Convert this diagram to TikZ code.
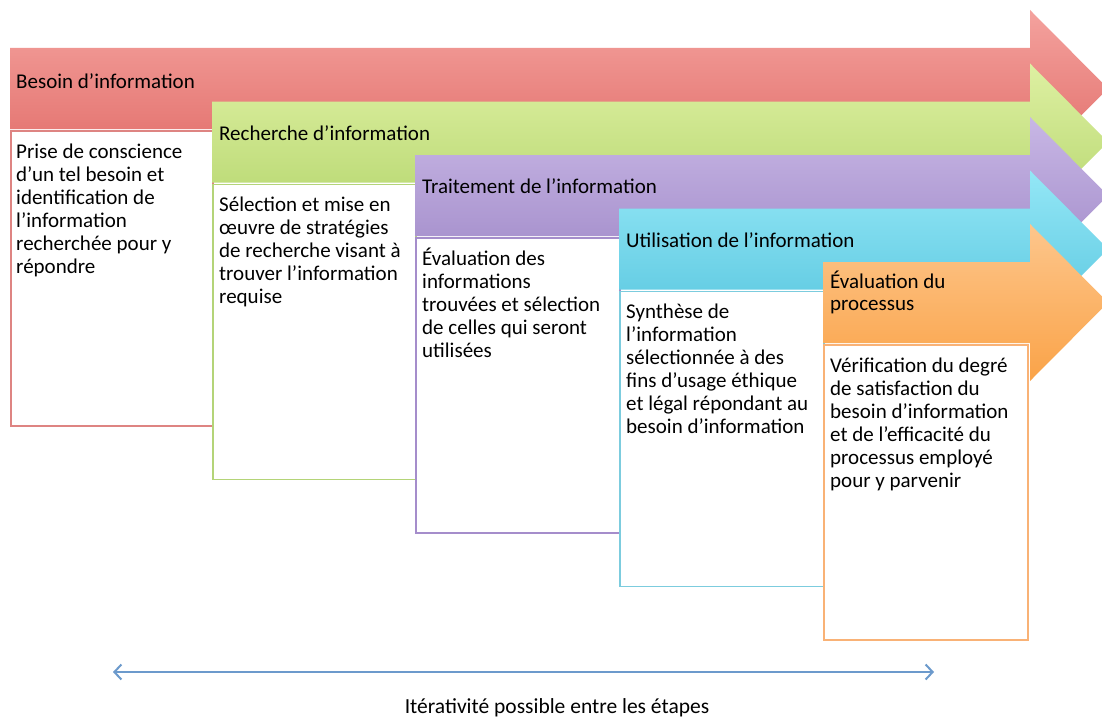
\documentclass[tikz,border=0pt]{standalone}
\usepackage{fontspec}
\setmainfont{Carlito}
\usetikzlibrary{arrows.meta}

\definecolor{redtop}{RGB}{244,162,158}
\definecolor{redbot}{RGB}{225,108,104}
\definecolor{redline}{RGB}{222,132,130}
\definecolor{greentop}{RGB}{222,240,162}
\definecolor{greenbot}{RGB}{181,214,110}
\definecolor{greenline}{RGB}{180,212,120}
\definecolor{purpletop}{RGB}{200,183,229}
\definecolor{purplebot}{RGB}{160,137,200}
\definecolor{purpleline}{RGB}{165,141,203}
\definecolor{cyantop}{RGB}{148,231,246}
\definecolor{cyanbot}{RGB}{88,198,223}
\definecolor{cyanline}{RGB}{124,204,222}
\definecolor{orangetop}{RGB}{253,198,140}
\definecolor{orangebot}{RGB}{250,163,72}
\definecolor{orangeline}{RGB}{249,178,118}
\definecolor{iterblue}{RGB}{108,154,204}

% first line top: baseline minus 18pt
\newcommand{\firstline}{\rule{0pt}{18pt}}

\tikzset{
  header/.style={anchor=north west, inner sep=0pt, align=left,
    font=\fontsize{21}{22.5}\selectfont},
  stepbox/.style={draw=#1, line width=1.5pt, fill=white, anchor=north west,
    inner sep=0pt},
  boxtext/.style={anchor=north west, inner sep=0pt, align=left,
    font=\fontsize{21}{23}\selectfont},
  iterarrow/.style={iterblue, line width=1.8pt,
    {Straight Barb[length=7pt,width=15pt,line width=2pt]}-{Straight Barb[length=7pt,width=15pt,line width=2pt]}},
}

\begin{document}
\begin{tikzpicture}[x=1pt,y=-1pt]
        \useasboundingbox[fill=white] (0,0) rectangle (1102,717);

        % besoin
        \path[top color=redtop, bottom color=redbot]
          (10,48) -- (1030,48) -- (1030,10) -- (1108,88.5) -- (1030,167) -- (1030,129) -- (10,129) -- cycle;
        \node[header] (h1) at (16,70) {\firstline Besoin d’information};
        \node[stepbox=redline, minimum width=202pt, minimum height=295pt] (box1) at (10,130) {};
        \node[boxtext] (t1) at (16,140) {\firstline Prise de conscience\\d’un tel besoin et\\identification de\\l’information\\recherchée pour y\\répondre};

        % recherche
        \path[top color=greentop, bottom color=greenbot]
          (212,101.5) -- (1030,101.5) -- (1030,63.5) -- (1108,142) -- (1030,220.5) -- (1030,182.5) -- (212,182.5) -- cycle;
        \node[header] (h2) at (219,122) {\firstline Recherche d’information};
        \node[stepbox=greenline, minimum width=203pt, minimum height=295pt] (box2) at (212,183.5) {};
        \node[boxtext] (t2) at (219,193.5) {\firstline Sélection et mise en\\œuvre de stratégies\\de recherche visant à\\trouver l’information\\requise};

        % traitement
        \path[top color=purpletop, bottom color=purplebot]
          (415,155) -- (1030,155) -- (1030,117) -- (1108,195.5) -- (1030,274) -- (1030,236) -- (415,236) -- cycle;
        \node[header] (h3) at (422,175.5) {\firstline Traitement de l’information};
        \node[stepbox=purpleline, minimum width=204pt, minimum height=295pt] (box3) at (415,237) {};
        \node[boxtext] (t3) at (422,247) {\firstline Évaluation des\\informations\\trouvées et sélection\\de celles qui seront\\utilisées};

        % utilisation
        \path[top color=cyantop, bottom color=cyanbot]
          (619,208.5) -- (1030,208.5) -- (1030,170.5) -- (1108,249) -- (1030,327.5) -- (1030,289.5) -- (619,289.5) -- cycle;
        \node[header] (h4) at (626,229) {\firstline Utilisation de l’information};
        \node[stepbox=cyanline, minimum width=204pt, minimum height=295pt] (box4) at (619,290.5) {};
        \node[boxtext] (t4) at (626,300.5) {\firstline Synthèse de\\l’information\\sélectionnée à des\\fins d’usage éthique\\et légal répondant au\\besoin d’information};

        % evaluation
        \path[top color=orangetop, bottom color=orangebot]
          (823,262) -- (1030,262) -- (1030,224) -- (1108,302.5) -- (1030,381) -- (1030,343) -- (823,343) -- cycle;
        \node[header] (h5) at (830,270) {\firstline Évaluation du\\processus};
        \node[stepbox=orangeline, minimum width=204pt, minimum height=295pt] (box5) at (823,344) {};
        \node[boxtext] (t5) at (830,354) {\firstline Vérification du degré\\de satisfaction du\\besoin d’information\\et de l’efficacité du\\processus employé\\pour y parvenir};

        % iterativite
        \coordinate (itleft) at (113,672);
        \coordinate (itright) at (934,672);
        \draw[iterarrow] (itleft) -- (itright);
        \node[anchor=base, inner sep=0pt, font=\fontsize{21.5}{23}\selectfont] (iter) at (557,713) {Itérativité possible entre les étapes};
    \end{tikzpicture}
\end{document}
